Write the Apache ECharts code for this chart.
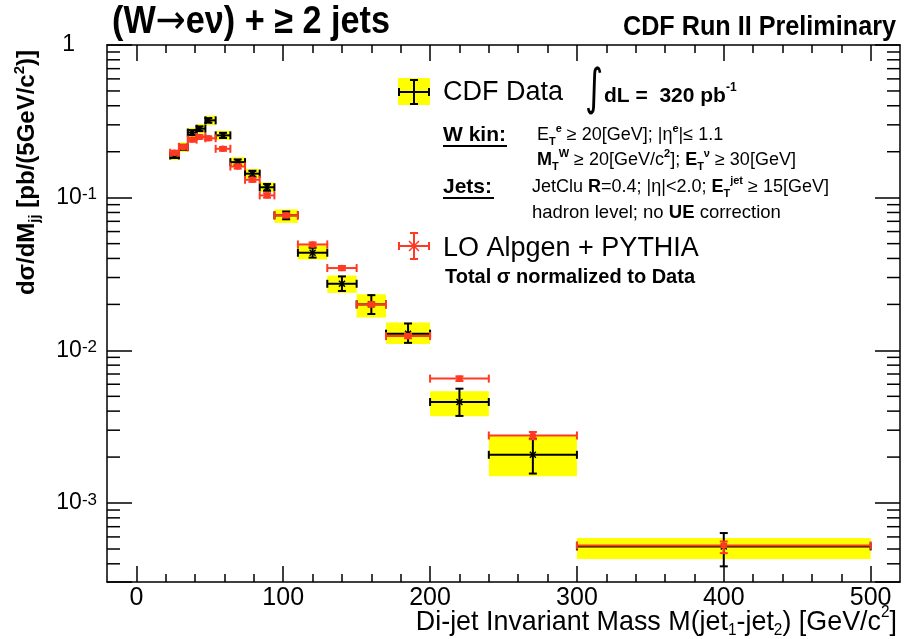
<!DOCTYPE html>
<html><head><meta charset="utf-8">
<script src="https://cdn.jsdelivr.net/npm/echarts@6/dist/echarts.min.js"></script>
<style>html,body{margin:0;padding:0;background:#fff}#c{width:905px;height:639px}</style>
</head><body><div id="c"></div>
<script>
// ---- data ----
const binLo  = [23, 29, 35, 41, 47, 54, 64, 74, 84, 94, 110, 130, 150, 170, 200, 240, 300];
const binHi  = [29, 35, 41, 47, 54, 64, 74, 84, 94, 110, 130, 150, 170, 200, 240, 300, 500];
const massX  = [26, 32, 38, 43, 49, 59, 69, 79, 89, 102, 120, 140, 160, 185, 220, 270, 400];
const dataY  = [0.189, 0.214, 0.267, 0.283, 0.321, 0.256, 0.171, 0.1436, 0.117, 0.0766, 0.0436, 0.0273, 0.0200, 0.01286, 0.00459, 0.00207, 0.00052];
const statLo = [0.182, 0.206, 0.257, 0.273, 0.310, 0.246, 0.164, 0.137, 0.111, 0.0722, 0.0405, 0.0245, 0.0173, 0.0112, 0.00372, 0.00156, 0.000385];
const statHi = [0.196, 0.222, 0.277, 0.293, 0.332, 0.266, 0.178, 0.150, 0.123, 0.0812, 0.0470, 0.0305, 0.0230, 0.0150, 0.00561, 0.00264, 0.000636];
const systLo = [0.176, 0.199, 0.249, 0.264, 0.299, 0.239, 0.159, 0.134, 0.109, 0.0684, 0.0394, 0.0238, 0.0164, 0.0110, 0.00370, 0.00150, 0.00043];
const systHi = [0.203, 0.230, 0.287, 0.304, 0.345, 0.274, 0.184, 0.154, 0.126, 0.0838, 0.0488, 0.0309, 0.0233, 0.0152, 0.00540, 0.00277, 0.00059];
const mcY    = [0.197, 0.215, 0.240, 0.250, 0.245, 0.209, 0.160, 0.131, 0.1035, 0.0766, 0.0494, 0.0346, 0.0200, 0.0124, 0.00653, 0.00277, 0.000528];
const mcLo   = [0.191, 0.209, 0.233, 0.243, 0.238, 0.203, 0.155, 0.127, 0.100, 0.0743, 0.0479, 0.0335, 0.0194, 0.0120, 0.00630, 0.00262, 0.000470];
const mcHi   = [0.203, 0.221, 0.247, 0.257, 0.252, 0.215, 0.165, 0.135, 0.107, 0.0789, 0.0509, 0.0357, 0.0206, 0.0128, 0.00676, 0.00292, 0.000560];
const yMinorTicks = [4e-4,5e-4,6e-4,7e-4,8e-4,9e-4, 2e-3,3e-3,4e-3,5e-3,6e-3,7e-3,8e-3,9e-3, 2e-2,3e-2,4e-2,5e-2,6e-2,7e-2,8e-2,9e-2, 0.2,0.3,0.4,0.5,0.6,0.7,0.8,0.9];
const xMin = -20, xMax = 520, yMin = 3.04e-4, yMax = 1;

// ---- layout ----
const G = {left: 107, right: 5, top: 45, bottom: 57};
const plotW = 905 - G.left - G.right;
const pxPerUnit = plotW / (xMax - xMin);
const G2left = G.left + (0 - xMin) * pxPerUnit;
const G2right = G.right + (xMax - 500) * pxPerUnit;

const SANS = '"Liberation Sans","Helvetica","Arial",sans-serif';
const DJV = '"DejaVu Sans",sans-serif';
const RED = '#ff3a22';

function errRender(color, marker) {
  return function (params, api) {
    const x0 = api.value(0), x1 = api.value(1), xc = api.value(2);
    const y = api.value(3), ylo = api.value(4), yhi = api.value(5);
    const pL = api.coord([x0, y]), pR = api.coord([x1, y]), pC = api.coord([xc, y]);
    const pLo = api.coord([xc, ylo]), pHi = api.coord([xc, yhi]);
    const st = {stroke: color, lineWidth: 2};
    const cap = 4;
    const L = (a, b, c, d) => ({type: 'line', shape: {x1: a, y1: b, x2: c, y2: d}, style: st});
    const ch = [
      L(pL[0], pL[1], pR[0], pR[1]),
      L(pL[0], pL[1] - cap, pL[0], pL[1] + cap),
      L(pR[0], pR[1] - cap, pR[0], pR[1] + cap),
      L(pC[0], pLo[1], pC[0], pHi[1]),
      L(pC[0] - cap, pLo[1], pC[0] + cap, pLo[1]),
      L(pC[0] - cap, pHi[1], pC[0] + cap, pHi[1])
    ];
    if (marker === 'x') {
      ch.push({type: 'line', shape: {x1: pC[0]-3, y1: pC[1]-3, x2: pC[0]+3, y2: pC[1]+3}, style: {stroke: color, lineWidth: 1.5}});
      ch.push({type: 'line', shape: {x1: pC[0]-3, y1: pC[1]+3, x2: pC[0]+3, y2: pC[1]-3}, style: {stroke: color, lineWidth: 1.5}});
    } else {
      ch.push({type: 'circle', shape: {cx: pC[0], cy: pC[1], r: 3.2}, style: {fill: color}});
    }
    return {type: 'group', children: ch};
  };
}

const dataItems = massX.map((x, i) => [binLo[i], binHi[i], x, dataY[i], statLo[i], statHi[i]]);
const mcItems = massX.map((x, i) => [binLo[i], binHi[i], x, mcY[i], mcLo[i], mcHi[i]]);
const systItems = massX.map((x, i) => [binLo[i], binHi[i], systLo[i], systHi[i]]);

const supLabel = v => {
  const e = Math.round(Math.log10(v));
  if (Math.abs(Math.log10(v) - e) > 1e-6) return '';
  if (e === 0) return '{one|1}';
  return '{m|10}{s|' + e + '}';
};

const richSmall = (fs) => ({
  n: {fontSize: fs, fontFamily: SANS, verticalAlign: 'middle', lineHeight: 24},
  b: {fontSize: fs, fontFamily: SANS, fontWeight: 'bold', verticalAlign: 'middle'},
  s: {fontSize: Math.round(fs * 0.6), fontFamily: SANS, fontWeight: 'bold', verticalAlign: 'top'},
  d: {fontSize: Math.round(fs * 0.6), fontFamily: SANS, fontWeight: 'bold', verticalAlign: 'bottom'}
});

const xTickAxis = (pos, labels) => ({
  gridIndex: 1, type: 'value', min: 0, max: 500, interval: 100, position: pos,
  axisLine: {show: false, onZero: false}, splitLine: {show: false},
  axisTick: {inside: true, length: 16, lineStyle: {color: '#000', width: 1.5}},
  minorTick: {show: true, splitNumber: 5, length: 8, lineStyle: {color: '#000', width: 1.5}},
  axisLabel: labels ? {margin: 4, fontFamily: SANS, fontSize: 25, color: '#000'} : {show: false}
});

const option = {
  animation: false,
  backgroundColor: '#fff',
  grid: [
    {left: G.left, right: G.right, top: G.top, bottom: G.bottom},
    {left: G2left, right: G2right, top: G.top, bottom: G.bottom}
  ],
  xAxis: [
    {gridIndex: 0, type: 'value', min: xMin, max: xMax, position: 'bottom',
     axisLine: {onZero: false, lineStyle: {color: '#000', width: 1.5}}, axisTick: {show: false}, axisLabel: {show: false}, splitLine: {show: false}},
    {gridIndex: 0, type: 'value', min: xMin, max: xMax, position: 'top',
     axisLine: {onZero: false, lineStyle: {color: '#000', width: 1.5}}, axisTick: {show: false}, axisLabel: {show: false}, splitLine: {show: false}},
    xTickAxis('bottom', true),
    xTickAxis('top', false)
  ],
  yAxis: [
    {gridIndex: 0, type: 'log', logBase: 10, min: yMin, max: yMax, position: 'left',
     axisLine: {show: true, onZero: false, lineStyle: {color: '#000', width: 1.5}}, splitLine: {show: false},
     axisTick: {show: true, inside: true, length: 25, lineStyle: {color: '#000', width: 1.5}},
     axisLabel: {margin: 10, formatter: supLabel, color: '#000',
       rich: {m: {fontSize: 23, fontFamily: SANS, verticalAlign: 'middle'},
              one: {fontSize: 23, fontFamily: SANS, verticalAlign: 'middle', padding: [0, 22, 0, 0]},
              s: {fontSize: 17, fontFamily: SANS, verticalAlign: 'top'}}}},
    {gridIndex: 0, type: 'log', logBase: 10, min: yMin, max: yMax, position: 'right',
     axisLine: {show: true, onZero: false, lineStyle: {color: '#000', width: 1.5}}, splitLine: {show: false},
     axisTick: {show: true, inside: true, length: 25, lineStyle: {color: '#000', width: 1.5}},
     axisLabel: {show: false}},
    {gridIndex: 1, type: 'value', show: false}
  ],
  series: [
    {type: 'custom', name: 'syst', xAxisIndex: 0, yAxisIndex: 0, clip: true,
     encode: {x: [0, 1], y: [2, 3]}, data: systItems,
     renderItem: (params, api) => {
       const a = api.coord([api.value(0), api.value(3)]);
       const b = api.coord([api.value(1), api.value(2)]);
       return {type: 'rect', shape: {x: a[0], y: a[1], width: b[0] - a[0], height: b[1] - a[1]}, style: {fill: '#ffff00'}};
     }},
    {type: 'custom', name: 'CDF Data', xAxisIndex: 0, yAxisIndex: 0,
     encode: {x: [0, 1, 2], y: [3, 4, 5]}, data: dataItems, renderItem: errRender('#000', 'x')},
    {type: 'custom', name: 'LO Alpgen + PYTHIA', xAxisIndex: 0, yAxisIndex: 0,
     encode: {x: [0, 1, 2], y: [3, 4, 5]}, data: mcItems, renderItem: errRender(RED, 'o')},
    {type: 'custom', name: 'yminor', xAxisIndex: 0, yAxisIndex: 0, silent: true,
     encode: {x: 0, y: 1}, data: yMinorTicks.map(v => [xMin, v]),
     renderItem: (params, api) => {
       const cs = params.coordSys;
       const p = api.coord([xMin, api.value(1)]);
       const st = {stroke: '#000', lineWidth: 1.5};
       return {type: 'group', children: [
         {type: 'line', shape: {x1: cs.x, y1: p[1], x2: cs.x + 13, y2: p[1]}, style: st},
         {type: 'line', shape: {x1: cs.x + cs.width, y1: p[1], x2: cs.x + cs.width - 13, y2: p[1]}, style: st}
       ]};
     }}
  ],
  graphic: [
    // titles
    {type: 'text', x: 112, y: 23, scaleX: 0.9, style: {
      text: '{t|(W}{a|\u2192}{t|e\u03bd) + \u2265 2 jets}', verticalAlign: 'middle', fill: '#000',
      rich: {t: {fontFamily: SANS, fontWeight: 'bold', fontSize: 38, verticalAlign: 'middle', lineHeight: 44},
             a: {fontFamily: DJV, fontWeight: 'normal', fontSize: 40, verticalAlign: 'middle'}}}},
    {type: 'text', x: 896, y: 27, scaleX: 0.9, style: {text: 'CDF Run II Preliminary', fontFamily: SANS, fontWeight: 'bold', fontSize: 28, fill: '#000', align: 'right', verticalAlign: 'middle'}},
    // x-axis title
    {type: 'text', x: 897, y: 622, scaleX: 0.96, style: {
      text: '{n|Di-jet Invariant Mass M(jet}{d|1}{n|-jet}{d|2}{n|) [GeV/c}{s|2}{n|]}',
      align: 'right', verticalAlign: 'middle', fill: '#000',
      rich: {n: {fontSize: 28, fontFamily: SANS, verticalAlign: 'middle', lineHeight: 34},
             s: {fontSize: 16, fontFamily: SANS, verticalAlign: 'top'},
             d: {fontSize: 16, fontFamily: SANS, verticalAlign: 'bottom'}}}},
    // y-axis title
    {type: 'text', x: 27, y: 50, rotation: Math.PI / 2, style: {
      text: '{n|d\u03c3/dM}{d|jj}{n| [pb/(5GeV/c}{s|2}{n|)]}',
      align: 'right', verticalAlign: 'middle', fill: '#000',
      rich: {n: {fontSize: 24, fontFamily: SANS, fontWeight: 'bold', verticalAlign: 'middle', lineHeight: 30},
             s: {fontSize: 15, fontFamily: SANS, fontWeight: 'bold', verticalAlign: 'top'},
             d: {fontSize: 15, fontFamily: SANS, fontWeight: 'bold', verticalAlign: 'bottom'}}}},
    // legend: CDF data icon
    {type: 'rect', shape: {x: 398, y: 78, width: 32, height: 27}, style: {fill: '#ffff00'}},
    {type: 'polyline', shape: {points: [[399, 92], [429, 92]]}, style: {stroke: '#000', lineWidth: 2}},
    {type: 'polyline', shape: {points: [[399, 88], [399, 96]]}, style: {stroke: '#000', lineWidth: 2}},
    {type: 'polyline', shape: {points: [[429, 88], [429, 96]]}, style: {stroke: '#000', lineWidth: 2}},
    {type: 'polyline', shape: {points: [[414, 80], [414, 104]]}, style: {stroke: '#000', lineWidth: 2}},
    {type: 'polyline', shape: {points: [[410, 80], [418, 80]]}, style: {stroke: '#000', lineWidth: 2}},
    {type: 'polyline', shape: {points: [[410, 104], [418, 104]]}, style: {stroke: '#000', lineWidth: 2}},
    {type: 'text', x: 443, y: 93, style: {text: 'CDF Data', fontFamily: SANS, fontSize: 27, fill: '#000', verticalAlign: 'middle'}},
    {type: 'text', x: 594, y: 91, scaleX: 0.7, style: {text: '\u222b', fontFamily: DJV, fontSize: 50, fill: '#000', align: 'center', verticalAlign: 'middle'}},
    {type: 'text', x: 604, y: 96, style: {text: '{b|dL =  320 pb}{s|-1}', verticalAlign: 'middle', fill: '#000',
      rich: {b: {fontSize: 21, fontFamily: SANS, fontWeight: 'bold', verticalAlign: 'middle', lineHeight: 28},
             s: {fontSize: 12, fontFamily: SANS, fontWeight: 'bold', verticalAlign: 'top'}}}},
    // W kin
    {type: 'text', x: 443, y: 135, style: {text: 'W kin:', fontFamily: SANS, fontWeight: 'bold', fontSize: 21, fill: '#000', verticalAlign: 'middle'}},
    {type: 'polyline', shape: {points: [[443, 146], [507, 146]]}, style: {stroke: '#000', lineWidth: 2}},
    {type: 'text', x: 537, y: 135, style: {text: '{n|E}{d|T}{s|e}{n| \u2265 20[GeV]; |\u03b7}{s|e}{n||\u2264 1.1}', verticalAlign: 'middle', fill: '#000', rich: richSmall(18)}},
    {type: 'text', x: 537, y: 160, style: {text: '{b|M}{d|T}{s|W}{n| \u2265 20[GeV/c}{s|2}{n|]; }{b|E}{d|T}{s|\u03bd}{n| \u2265 30[GeV]}', verticalAlign: 'middle', fill: '#000', rich: richSmall(18)}},
    // Jets
    {type: 'text', x: 443, y: 187, style: {text: 'Jets:', fontFamily: SANS, fontWeight: 'bold', fontSize: 21, fill: '#000', verticalAlign: 'middle'}},
    {type: 'polyline', shape: {points: [[443, 198], [494, 198]]}, style: {stroke: '#000', lineWidth: 2}},
    {type: 'text', x: 532, y: 187, style: {text: '{n|JetClu }{b|R}{n|=0.4; |\u03b7|<2.0; }{b|E}{d|T}{s|jet}{n| \u2265 15[GeV]}', verticalAlign: 'middle', fill: '#000', rich: richSmall(18)}},
    {type: 'text', x: 532, y: 213, style: {text: '{n|hadron level; no }{b|UE}{n| correction}', verticalAlign: 'middle', fill: '#000', rich: richSmall(18.5)}},
    // MC legend icon
    {type: 'polyline', shape: {points: [[399, 246], [429, 246]]}, style: {stroke: RED, lineWidth: 2}},
    {type: 'polyline', shape: {points: [[399, 242], [399, 250]]}, style: {stroke: RED, lineWidth: 2}},
    {type: 'polyline', shape: {points: [[429, 242], [429, 250]]}, style: {stroke: RED, lineWidth: 2}},
    {type: 'polyline', shape: {points: [[414, 233], [414, 259]]}, style: {stroke: RED, lineWidth: 2}},
    {type: 'polyline', shape: {points: [[410, 233], [418, 233]]}, style: {stroke: RED, lineWidth: 2}},
    {type: 'polyline', shape: {points: [[410, 259], [418, 259]]}, style: {stroke: RED, lineWidth: 2}},
    {type: 'polyline', shape: {points: [[409, 241], [419, 251]]}, style: {stroke: RED, lineWidth: 1.5}},
    {type: 'polyline', shape: {points: [[409, 251], [419, 241]]}, style: {stroke: RED, lineWidth: 1.5}},
    {type: 'text', x: 443, y: 249, style: {text: 'LO Alpgen + PYTHIA', fontFamily: SANS, fontSize: 27, fill: '#000', verticalAlign: 'middle'}},
    {type: 'text', x: 445, y: 277, style: {text: 'Total \u03c3 normalized to Data', fontFamily: SANS, fontWeight: 'bold', fontSize: 20, fill: '#000', verticalAlign: 'middle'}}
  ]
};
const chart = echarts.init(document.getElementById('c'), null, {renderer: 'canvas'});
chart.setOption(option);
</script>
</body></html>
